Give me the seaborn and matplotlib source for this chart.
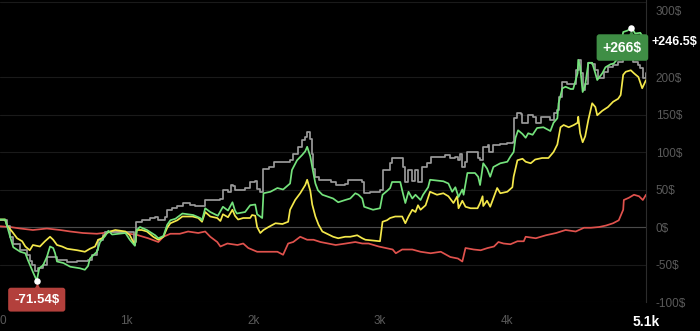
import matplotlib
matplotlib.use("Agg")
import numpy as np
import pandas as pd
import seaborn as sns
import matplotlib.pyplot as plt
from matplotlib import transforms

# ---------------- data ----------------
green_x = [0,40,55,80,105,160,200,220,260,290,310,340,370,395,420,435,450,500,555,630,670,695,710,765,790,830,855,885,990,1025,1065,1080,1105,1160,1225,1250,1290,1320,1345,1385,1440,1525,1580,1595,1620,1660,1720,1760,1800,1835,1855,1870,1935,1975,2015,2030,2070,2080,2135,2190,2235,2290,2305,2345,2385,2410,2425,2450,2465,2490,2510,2545,2630,2670,2725,2765,2805,2830,2860,2875,2945,3000,3020,3055,3080,3095,3160,3175,3200,3225,3255,3280,3320,3340,3380,3395,3500,3540,3570,3595,3620,3650,3660,3690,3750,3775,3790,3815,3845,3870,3895,3950,4005,4030,4055,4070,4090,4125,4150,4170,4205,4240,4290,4345,4370,4400,4410,4440,4465,4505,4525,4560,4565,4580,4600,4620,4645,4675,4700,4715,4755,4780,4820,4845,4880,4900,4920,4955,4985,5015,5055,5100]
green_y = [10,10,2,-13,-27,-33,-35,-44,-60,-71.54,-55,-51,-40,-26,-28,-35,-46,-48,-53,-55,-57,-52,-42,-33,-20,-12,-5,-10,-8,-17,-25,-4,0,-4,-11,-15,-12,3,9,11,18,16,12,9,25,20,15,27,22,33,22,18,20,29,30,17,12,45,47,52,50,58,76,89,96,101,107,94,80,58,49,43,38,33,36,38,45,43,38,27,23,25,43,48,52,60,60,49,32,47,38,43,36,43,53,63,61,58,47,53,40,50,43,72,72,67,56,85,78,67,80,85,87,94,100,119,129,124,119,125,123,132,133,128,139,145,165,185,187,184,184,205,223,214,180,189,219,219,205,196,205,213,217,218,225,240,260,262,266,258,259,246.5]

gray_x = [0,40,55,80,105,160,215,235,255,275,300,340,370,420,450,530,610,695,725,765,775,815,830,950,1025,1060,1075,1120,1185,1225,1250,1305,1320,1360,1400,1445,1500,1540,1580,1620,1700,1740,1760,1800,1820,1840,1855,1895,1935,1975,2015,2030,2055,2080,2120,2160,2250,2290,2315,2355,2385,2410,2425,2450,2465,2475,2490,2515,2530,2610,2650,2725,2750,2805,2860,2875,2925,3000,3020,3055,3080,3095,3175,3185,3200,3225,3255,3280,3300,3335,3375,3400,3515,3555,3595,3615,3635,3650,3675,3690,3740,3770,3790,3815,3850,3860,3890,3950,4005,4050,4055,4085,4110,4125,4165,4170,4205,4230,4270,4310,4345,4370,4400,4410,4440,4480,4520,4545,4570,4585,4600,4620,4645,4675,4700,4725,4765,4800,4840,4880,4915,4940,4980,4995,5035,5055,5080,5100]
gray_y = [10,10,2,-13,-22,-30,-37,-45,-51,-59,-55,-51,-40,-40,-44,-46,-45,-44,-37,-30,-17,-11,-6,-6,-7,-20,7,9,12,14,9,14,23,25,28,32,30,28,28,36,36,38,49,47,56,55,49,49,52,60,62,51,47,78,80,87,87,89,98,107,116,120,127,118,98,78,67,63,63,60,56,58,63,63,60,45,47,49,76,76,85,92,92,80,60,76,62,76,60,80,85,94,96,92,94,90,98,80,87,100,100,92,90,107,109,100,109,111,112,114,145,152,151,139,139,149,147,139,147,147,143,152,156,173,193,191,191,209,223,205,183,191,219,217,209,199,207,213,216,220,225,227,225,220,216,212,199,205]

yellow_x = [0,40,55,95,135,175,200,235,260,315,355,395,420,450,490,530,610,670,710,750,775,805,845,870,910,990,1025,1065,1080,1120,1160,1210,1250,1290,1320,1345,1400,1440,1520,1565,1595,1620,1660,1715,1740,1760,1800,1835,1855,1880,1920,1975,1990,2015,2030,2055,2080,2120,2175,2230,2275,2290,2330,2370,2410,2425,2450,2465,2490,2515,2545,2630,2670,2725,2765,2820,2860,2885,3000,3020,3055,3080,3120,3175,3200,3225,3255,3280,3300,3320,3360,3395,3450,3500,3540,3580,3610,3620,3650,3675,3715,3770,3790,3810,3815,3845,3870,3925,3950,4005,4045,4055,4085,4125,4150,4190,4225,4280,4330,4370,4400,4425,4450,4490,4530,4560,4565,4580,4600,4620,4645,4675,4700,4715,4755,4800,4840,4880,4900,4920,4940,4980,5005,5040,5070,5100]
yellow_y = [10,10,2,-6,-15,-19,-26,-31,-24,-26,-19,-13,-17,-24,-26,-29,-31,-33,-29,-26,-17,-15,-8,-6,-4,-6,-11,-24,-4,-4,-6,-13,-17,-13,-1,5,9,14,14,12,7,20,14,12,8,17,13,23,15,10,12,12,16,15,0,-8,-4,0,5,4,7,23,36,45,56,63,48,30,14,3,-6,-13,-15,-13,-13,-11,-15,-17,-19,7,9,12,14,14,5,14,23,20,29,23,29,47,43,45,41,32,41,25,35,27,25,25,32,41,28,35,27,52,45,47,53,67,89,91,87,85,90,92,92,100,110,133,136,133,136,139,147,125,113,121,143,165,160,149,155,160,167,171,176,203,207,209,205,200,185,196]

red_x = [0,80,160,260,370,475,555,655,765,815,870,910,990,1090,1170,1250,1290,1345,1420,1485,1565,1620,1660,1715,1740,1795,1875,1920,1960,2030,2110,2190,2235,2275,2315,2370,2425,2475,2530,2650,2730,2805,2860,2910,2990,3045,3100,3125,3175,3255,3320,3400,3480,3555,3615,3650,3675,3740,3795,3850,3900,3935,3975,4030,4085,4135,4150,4230,4310,4390,4465,4545,4610,4665,4730,4785,4840,4885,4920,4925,4965,5005,5045,5075,5100]
red_y = [1,0,-2,-4,-2,-4,-6,-8,-9,-8,-6,-6,-8,-11,-15,-20,-13,-9,-9,-6,-8,-6,-13,-20,-26,-22,-24,-22,-28,-33,-33,-33,-37,-22,-20,-13,-17,-17,-20,-24,-22,-20,-22,-22,-26,-28,-30,-35,-30,-30,-33,-35,-33,-40,-42,-46,-28,-30,-31,-28,-26,-20,-22,-23,-19,-19,-13,-15,-11,-8,-4,-6,-1,-1,0,2,5,9,23,36,39,43,41,36,43]

y_ticks = [-100, -50, 0, 50, 100, 150, 200, 300]
y_tick_labels = ["-100$", "-50$", "0$", "50$", "100$", "150$", "200$", "300$"]
x_ticks = [0, 1000, 2000, 3000, 4000, 5100]
x_tick_labels = ["0", "1k", "2k", "3k", "4k", "5.1k"]

for a, b in [(green_x, green_y), (gray_x, gray_y), (yellow_x, yellow_y), (red_x, red_y)]:
    assert len(a) == len(b), (len(a), len(b))

# ---------------- style ----------------
sns.set_theme(style="dark")
plt.rcParams["font.family"] = ["Liberation Sans", "DejaVu Sans"]

fig = plt.figure(figsize=(7.0, 3.31), dpi=100, facecolor="black")
ax = fig.add_axes([0, 29 / 331, 646 / 700, 302 / 331])
ax.set_facecolor("black")

ax.grid(axis="y", color="#1a1a1a", lw=0.8)
ax.grid(axis="x", visible=False)
ax.axhline(0, color="#4a4a4a", lw=0.8, zorder=1)

series = [
    (red_x, red_y, "#e0524d", "default"),
    (gray_x, gray_y, "#9a9a9a", "steps-post"),
    (yellow_x, yellow_y, "#f4e84b", "default"),
    (green_x, green_y, "#74e27c", "default"),
]
for xs, ys, col, ds in series:
    sns.lineplot(x=xs, y=ys, ax=ax, color=col, lw=1.25, estimator=None,
                 sort=False, drawstyle=ds, zorder=3)

ax.set_xlim(0, 5100)
ax.set_ylim(-100, 302.7)
ax.set_xlabel("")
ax.set_ylabel("")

ax.yaxis.tick_right()
ax.set_yticks(y_ticks)
ax.set_yticklabels(y_tick_labels)
ax.tick_params(axis="y", length=0, pad=7, labelcolor="#5a5a5a", labelsize=8.5)
top_lbl = ax.get_yticklabels()[-1]
top_lbl.set_va("top")
top_lbl.set_transform(top_lbl.get_transform() + transforms.ScaledTranslation(0, -3 / 72, fig.dpi_scale_trans))

ax.set_xticks(x_ticks)
ax.set_xticklabels(x_tick_labels)
ax.tick_params(axis="x", length=0, pad=9, labelcolor="#5a5a5a", labelsize=8.5)
xl = ax.get_xticklabels()
xl[0].set_ha("left")
xl[-1].set_color("white")
xl[-1].set_fontweight("bold")
xl[-1].set_fontsize(10)

for s in ["left", "top", "bottom"]:
    ax.spines[s].set_visible(False)
ax.spines["right"].set_color("#2c2c2c")
ax.spines["right"].set_linewidth(0.8)

# ---------------- annotations ----------------
gy = np.array(green_y)
imax, imin = int(np.argmax(gy)), int(np.argmin(gy))
xmax, vmax = green_x[imax], gy[imax]
xmin, vmin = green_x[imin], gy[imin]

green_box = "#3f8e45"
red_box = "#b3403c"

ax.scatter([xmax], [vmax], s=22, color="white", zorder=6, clip_on=False, linewidths=0)
tri = transforms.offset_copy(ax.transData, fig=fig, x=0, y=-6, units="dots")
ax.scatter([xmax], [vmax], marker="^", s=40, color=green_box, transform=tri, zorder=5,
           clip_on=False, linewidths=0)
ax.annotate(f"+{vmax:g}$", xy=(xmax, vmax), xytext=(-9, -20), textcoords="offset pixels",
            ha="center", va="center", color="white", fontsize=10, fontweight="bold",
            bbox=dict(boxstyle="round,pad=0.45,rounding_size=0.2", fc=green_box, ec="none"),
            zorder=5, annotation_clip=False)

ax.scatter([xmin], [vmin], s=22, color="white", zorder=6, clip_on=False, linewidths=0)
tri2 = transforms.offset_copy(ax.transData, fig=fig, x=0, y=-6, units="dots")
ax.scatter([xmin], [vmin], marker="^", s=40, color=red_box, transform=tri2, zorder=5,
           clip_on=False, linewidths=0)
ax.annotate(f"{vmin:g}$", xy=(xmin, vmin), xytext=(0, -19), textcoords="offset pixels",
            ha="center", va="center", color="white", fontsize=9.5, fontweight="bold",
            bbox=dict(boxstyle="round,pad=0.45,rounding_size=0.2", fc=red_box, ec="none"),
            zorder=5, annotation_clip=False)

last = gy[-1]
ax.text(1.009, last, f"+{last:g}$",
        transform=transforms.blended_transform_factory(ax.transAxes, ax.transData),
        ha="left", va="center", color="white", fontsize=9, fontweight="bold", clip_on=False)

fig.savefig("out.png", dpi=100, facecolor="black")
